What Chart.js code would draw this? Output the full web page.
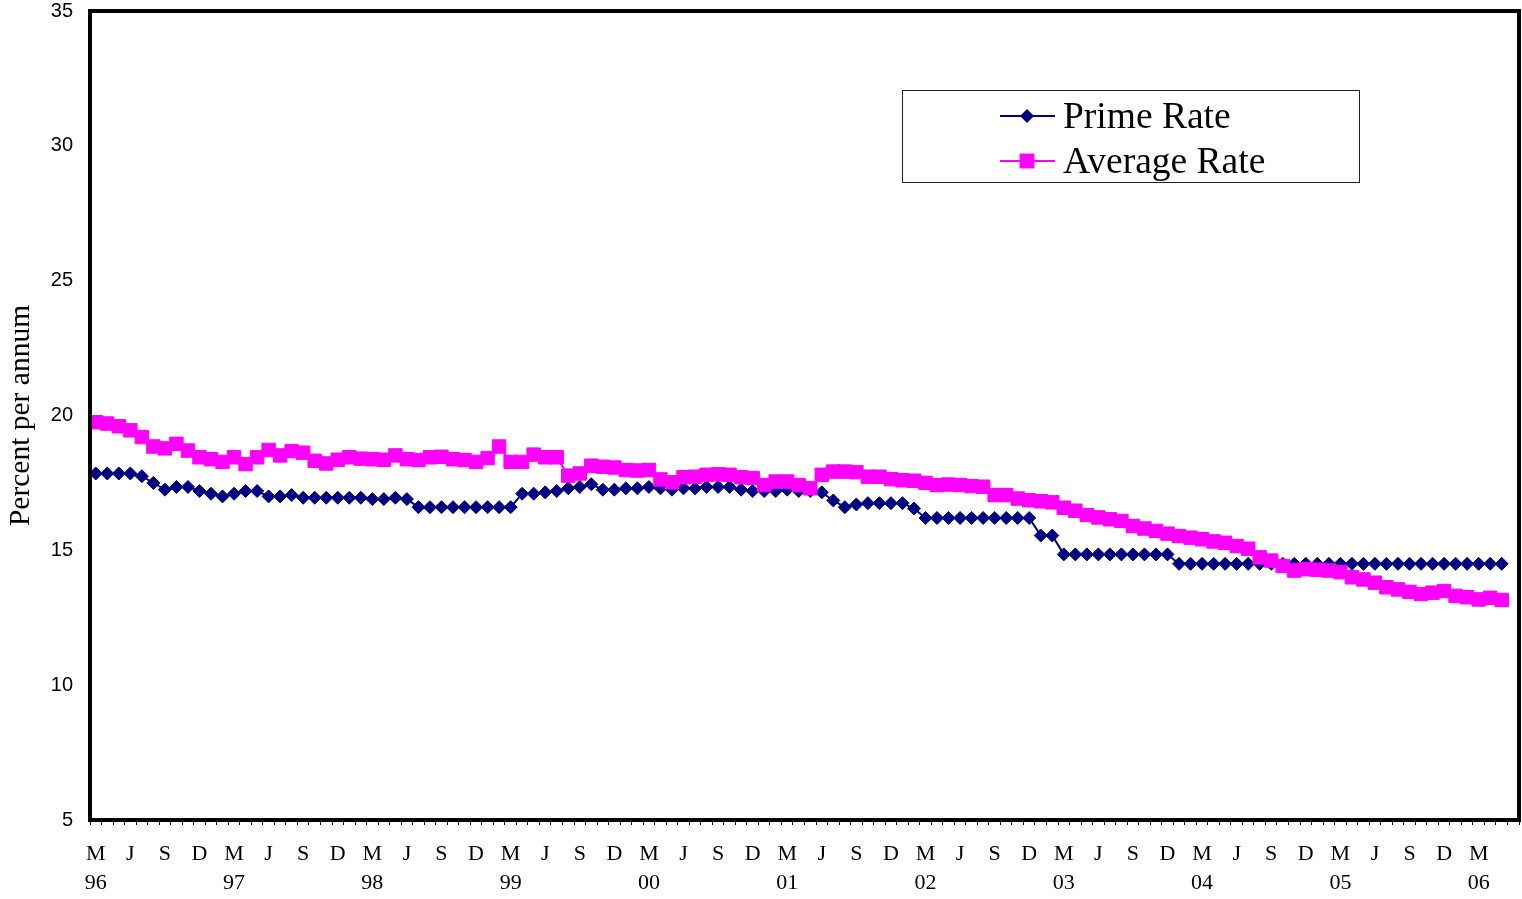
<!DOCTYPE html>
<html>
<head>
<meta charset="utf-8">
<title>Prime Rate and Average Rate</title>
<script src="https://cdn.jsdelivr.net/npm/chart.js@4.4.0/dist/chart.umd.min.js"></script>
<style>
  html, body { margin: 0; padding: 0; background: #fff; }
  #wrap { width: 1522px; height: 899px; }
</style>
</head>
<body>
<div id="wrap"><canvas id="rates"></canvas></div>
<script>
// monthly series, March 1996 to May 2006; the axis keeps one more empty month (June 2006)
const startYear = 1996;
const startMonth = 2; // March (0 = January)
const monthCount = 124;

// letter shown under every third month, year shown under March
const quarterLetters = { 2: 'M', 5: 'J', 8: 'S', 11: 'D' };

const primeRate = [
  17.85, 17.85, 17.85, 17.85, 17.75, 17.5, 17.25, 17.35, 17.35, 17.2, 17.1, 17.0,
  17.1, 17.2, 17.2, 17.0, 17.0, 17.05, 16.95, 16.95, 16.95, 16.95, 16.95, 16.95,
  16.9, 16.9, 16.95, 16.9, 16.6, 16.6, 16.6, 16.6, 16.6, 16.6, 16.6, 16.6,
  16.6, 17.1, 17.1, 17.15, 17.2, 17.3, 17.35, 17.45, 17.25, 17.25, 17.3, 17.3,
  17.35, 17.3, 17.25, 17.3, 17.3, 17.35, 17.35, 17.35, 17.25, 17.2, 17.2, 17.2,
  17.25, 17.2, 17.2, 17.15, 16.85, 16.6, 16.7, 16.75, 16.75, 16.75, 16.75, 16.55,
  16.2, 16.2, 16.2, 16.2, 16.2, 16.2, 16.2, 16.2, 16.2, 16.2, 15.55, 15.55,
  14.85, 14.85, 14.85, 14.85, 14.85, 14.85, 14.85, 14.85, 14.85, 14.85, 14.5, 14.5,
  14.5, 14.5, 14.5, 14.5, 14.5, 14.5, 14.5, 14.5, 14.5, 14.5, 14.5, 14.5,
  14.5, 14.5, 14.5, 14.5, 14.5, 14.5, 14.5, 14.5, 14.5, 14.5, 14.5, 14.5,
  14.5, 14.5, 14.5
];

const averageRate = [
  19.75, 19.7, 19.6, 19.45, 19.2, 18.85, 18.78, 18.95, 18.7, 18.45, 18.38, 18.28,
  18.45, 18.2, 18.45, 18.72, 18.52, 18.68, 18.62, 18.32, 18.22, 18.36, 18.45, 18.4,
  18.38, 18.36, 18.52, 18.38, 18.35, 18.45, 18.47, 18.38, 18.35, 18.28, 18.42, 18.85,
  18.28, 18.28, 18.55, 18.45, 18.45, 17.77, 17.85, 18.14, 18.1, 18.07, 17.98, 17.96,
  17.98, 17.63, 17.52, 17.71, 17.73, 17.8, 17.82, 17.8, 17.71, 17.68, 17.42, 17.55,
  17.55, 17.42, 17.3, 17.8, 17.92, 17.92, 17.9, 17.73, 17.73, 17.64, 17.6, 17.58,
  17.5, 17.42, 17.44, 17.42, 17.38, 17.36, 17.05, 17.05, 16.92, 16.86, 16.82, 16.78,
  16.58, 16.47, 16.31, 16.22, 16.15, 16.09, 15.9, 15.81, 15.72, 15.62, 15.53, 15.47,
  15.41, 15.33, 15.28, 15.16, 15.06, 14.74, 14.62, 14.42, 14.25, 14.3, 14.28, 14.25,
  14.19, 14.0, 13.92, 13.8, 13.63, 13.55, 13.46, 13.38, 13.43, 13.49, 13.31, 13.26,
  13.18, 13.24, 13.16
];

const yTicks = { min: 5, max: 35, step: 5 };

// category list: one entry per month, month index and year
const categories = [];
for (let i = 0; i < monthCount; i++) {
  const m = (startMonth + i) % 12;
  const y = startYear + Math.floor((startMonth + i) / 12);
  categories.push({ month: m, year: y });
}

const serif = '"Liberation Serif", "Times New Roman", serif';
const sans = '"Liberation Sans", Arial, sans-serif';

// thick black box round the plot area
const plotFrame = {
  id: 'plotFrame',
  afterDatasetsDraw(chart) {
    const { ctx, chartArea: a } = chart;
    ctx.save();
    ctx.strokeStyle = '#000';
    ctx.lineWidth = 4;
    ctx.strokeRect(a.left, a.top, a.right - a.left, a.bottom - a.top);
    ctx.restore();
  }
};

function drawMarker(ctx, style, x, y, r) {
  ctx.beginPath();
  if (style === 'rectRot') {
    ctx.moveTo(x - r, y);
    ctx.lineTo(x, y - r);
    ctx.lineTo(x + r, y);
    ctx.lineTo(x, y + r);
  } else {
    const h = r * Math.SQRT1_2;
    ctx.rect(x - h, y - h, 2 * h, 2 * h);
  }
  ctx.closePath();
  ctx.fill();
}

// legend box inside the plot, as in the original
const boxLegend = {
  id: 'boxLegend',
  afterDraw(chart) {
    const { ctx } = chart;
    const bx = 902, by = 90, bw = 458, bh = 93;
    ctx.save();
    ctx.fillStyle = '#fff';
    ctx.fillRect(bx, by, bw, bh);
    ctx.strokeStyle = '#222';
    ctx.lineWidth = 1;
    ctx.strokeRect(bx + 0.5, by + 0.5, bw - 1, bh - 1);
    chart.data.datasets.forEach((ds, k) => {
      const cy = 116 + k * 45;
      ctx.strokeStyle = ds.borderColor;
      ctx.lineWidth = 2;
      ctx.beginPath();
      ctx.moveTo(1000, cy);
      ctx.lineTo(1055, cy);
      ctx.stroke();
      ctx.fillStyle = ds.pointBackgroundColor;
      drawMarker(ctx, ds.pointStyle, 1027, cy, ds.pointStyle === 'rectRot' ? 7 : 10.5);
      ctx.fillStyle = '#000';
      ctx.font = '37.5px ' + serif;
      ctx.textBaseline = 'alphabetic';
      ctx.textAlign = 'left';
      ctx.fillText(ds.label, 1063, cy + 12);
    });
    ctx.restore();
  }
};

const ctx = document.getElementById('rates');
new Chart(ctx, {
  type: 'line',
  data: {
    labels: categories.map(c => c.year + '-' + (c.month + 1)),
    datasets: [
      {
        label: 'Prime Rate',
        data: primeRate,
        borderColor: '#000080',
        backgroundColor: '#000080',
        pointBackgroundColor: '#000080',
        pointBorderColor: '#000080',
        pointStyle: 'rectRot',
        pointRadius: 6.5,
        pointBorderWidth: 1,
        borderWidth: 2,
        tension: 0,
        order: 2
      },
      {
        label: 'Average Rate',
        data: averageRate,
        borderColor: '#ff00ff',
        backgroundColor: '#ff00ff',
        pointBackgroundColor: '#ff00ff',
        pointBorderColor: '#ff00ff',
        pointStyle: 'rect',
        pointRadius: 9.5,
        pointBorderWidth: 1,
        borderWidth: 2,
        tension: 0,
        order: 1
      }
    ]
  },
  options: {
    responsive: true,
    maintainAspectRatio: false,
    animation: false,
    events: [],
    layout: { autoPadding: false, padding: { top: 11, right: 3, left: 0, bottom: 0 } },
    plugins: {
      legend: { display: false },
      tooltip: { enabled: false }
    },
    scales: {
      x: {
        type: 'category',
        offset: true,
        border: { display: false },
        grid: {
          offset: true,
          drawOnChartArea: false,
          drawTicks: true,
          tickLength: 5,
          color: '#000',
          lineWidth: 1
        },
        ticks: {
          autoSkip: false,
          maxRotation: 0,
          minRotation: 0,
          padding: 14,
          color: '#000',
          font: { family: serif, size: 22, lineHeight: 1.34 },
          callback: (value, index) => {
            const c = categories[index];
            // the trailing empty month carries no label
            if (index >= primeRate.length) return '';
            const letter = quarterLetters[c.month];
            if (!letter) return '';
            if (c.month === 2) return [letter, String(c.year).slice(2)];
            return letter;
          }
        },
        afterFit: scale => {
          scale.height = 79;
          scale.paddingLeft = 0;
          scale.paddingRight = 0;
        }
      },
      y: {
        min: yTicks.min,
        max: yTicks.max,
        border: { display: false },
        grid: { display: false, drawTicks: false },
        ticks: {
          stepSize: yTicks.step,
          padding: 17,
          color: '#000',
          font: { family: sans, size: 20 }
        },
        title: {
          display: true,
          text: 'Percent per annum',
          color: '#000',
          padding: { top: 4, bottom: 0 },
          font: { family: serif, size: 29.5 }
        },
        afterFit: scale => {
          scale.width = 90;
          scale.paddingTop = 0;
          scale.paddingBottom = 0;
        }
      }
    }
  },
  plugins: [plotFrame, boxLegend]
});
</script>
</body>
</html>
